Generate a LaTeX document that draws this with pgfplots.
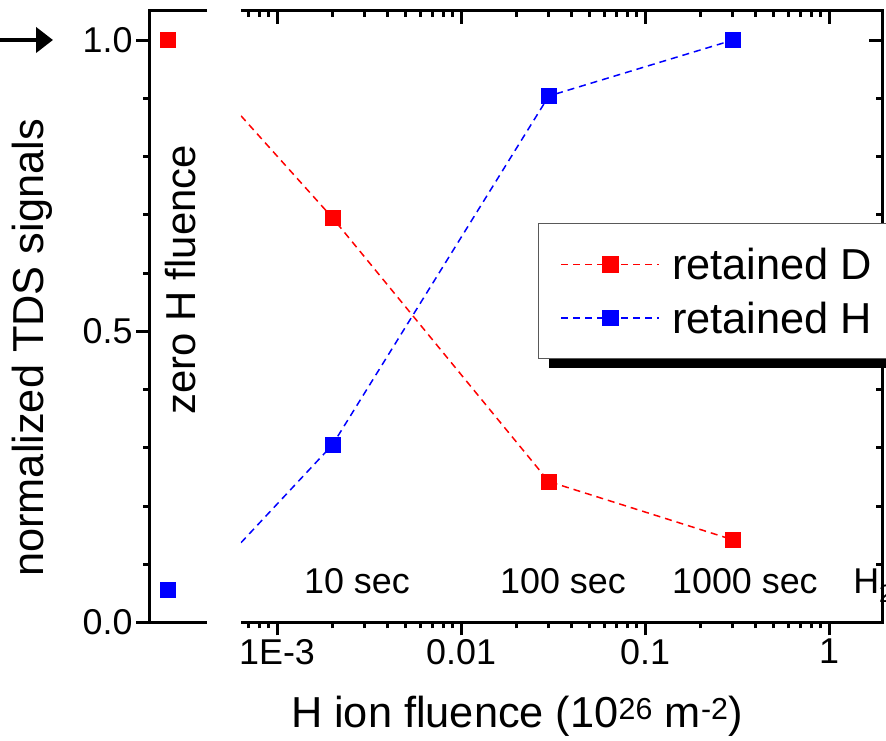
\documentclass[border=0pt]{standalone}
\usepackage{pgfplots}
\pgfplotsset{compat=1.18}
\usepackage{fontspec}
\setmainfont{Liberation Sans}
\usetikzlibrary{arrows.meta}
\begin{document}
\begin{tikzpicture}[x=1bp,y=1bp]
\useasboundingbox (0,0) rectangle (886,741);
\pgfplotsset{
  common/.style={scale only axis, height=611.5bp, ymin=0, ymax=1.05,
    axis line style={draw=none}, tick style={black, line width=3bp},
    major tick length=13bp, minor tick length=6bp,
    /pgf/number format/assume math mode=true,
    ticklabel style={font=\fontsize{36}{43}\selectfont},
    clip mode=individual, anchor=south west},
  mainx/.style={xmin=6.37e-4, xmax=1.94, width=641bp, at={(241bp,118.5bp)},
    xtick={0.001,0.01,0.1,1},
    minor xtick={7e-4,8e-4,9e-4,2e-3,3e-3,4e-3,5e-3,6e-3,7e-3,8e-3,9e-3,0.02,0.03,0.04,0.05,0.06,0.07,0.08,0.09,0.2,0.3,0.4,0.5,0.6,0.7,0.8,0.9}},
  leftx/.style={xmin=0, xmax=1, width=58bp, at={(149bp,118.5bp)}, xtick=\empty, minor xtick={0.57,1}},
  yt/.style={ytick={0,0.5,1}, minor ytick={0.1,0.2,0.3,0.4,0.6,0.7,0.8,0.9}},
}
% left (zero fluence) axis, outward ticks
\begin{axis}[common, leftx, yt, tick align=outside, xtick pos=left, ytick pos=left,
  yticklabels={0.0,0.5,1.0}]
\addplot[only marks, mark=square*, mark size=7.5bp, red] coordinates {(0.33,1.0)};
\addplot[only marks, mark=square*, mark size=7.5bp, blue] coordinates {(0.33,0.057)};
\draw[line width=3bp] (rel axis cs:1,1) -- (rel axis cs:0,1) -- (rel axis cs:0,0) -- (rel axis cs:1,0);
\end{axis}
% left axis, top inward ticks
\begin{axis}[common, leftx, tick align=inside, xtick pos=right, ytick=\empty, xticklabels={}]
\end{axis}
% main axis, inward top/right ticks and frame
\begin{axis}[xmode=log, common, mainx, yt, tick align=inside, xtick pos=right, ytick pos=right,
  xticklabels={}, yticklabels={}]
\draw[line width=3bp] (rel axis cs:0,1) -- (rel axis cs:1,1) -- (rel axis cs:1,0) -- (rel axis cs:0,0);
\end{axis}
% legend shadow
\fill[black] (549,373) rectangle (900,507);
% main axis with data, bottom outward ticks and legend
\begin{axis}[xmode=log, common, mainx, tick align=outside, xtick pos=left, ytick=\empty,
  xticklabels={1E-3,0.01,0.1,1},
  legend image code/.code={\draw[mark repeat=2,mark phase=2,#1] plot coordinates {(0bp,0bp) (49bp,0bp) (98bp,0bp)};},
  legend style={at={(0.4633,0.6533)}, anchor=north west,
    draw=black!65, line width=1.5bp, fill=white,
    font=\fontsize{43.5}{50}\selectfont,
    inner xsep=22bp, inner ysep=22bp, row sep=16bp, column sep=10bp,
    cells={inner sep=0pt, text height=32bp, text depth=5bp},
    column 2/.style={nodes={text width=260bp}}},
  legend cell align=left]
\addplot[red, line width=1.5bp, dash pattern=on 7bp off 5bp, forget plot]
  coordinates {(6.37e-4,0.87) (0.002,0.695) (0.03,0.242) (0.3,0.142)};
\addplot[blue, line width=1.5bp, dash pattern=on 7bp off 5bp, forget plot]
  coordinates {(6.37e-4,0.137) (0.002,0.305) (0.03,0.904) (0.3,1.0)};
\addplot[only marks, mark=square*, mark size=7.5bp, red, forget plot]
  coordinates {(0.002,0.695) (0.03,0.242) (0.3,0.142)};
\addplot[only marks, mark=square*, mark size=7.5bp, blue, forget plot]
  coordinates {(0.002,0.305) (0.03,0.904) (0.3,1.0)};
\addlegendimage{red, line width=1.5bp, dash pattern=on 7bp off 5bp, mark=square*, mark size=7.5bp, mark options={solid}}
\addlegendentry{retained D}
\addlegendimage{blue, line width=1.5bp, dash pattern=on 7bp off 5bp, mark=square*, mark size=7.5bp, mark options={solid}}
\addlegendentry{retained H}
\node[anchor=base, font=\fontsize{36}{43}\selectfont] at (axis cs:0.00272,0.049) {10 sec};
\node[anchor=base, font=\fontsize{36}{43}\selectfont] at (axis cs:0.0358,0.049) {100 sec};
\node[anchor=base, font=\fontsize{36}{43}\selectfont] at (axis cs:0.349,0.049) {1000 sec};
\node[anchor=base west, inner sep=0pt, font=\fontsize{36}{43}\selectfont] at (axis cs:1.35,0.049) {H\textsubscript{2}};
\end{axis}
% labels and arrow
\node[rotate=90, anchor=base, inner sep=0pt, font=\fontsize{43.5}{50}\selectfont] at (43,393) {normalized TDS signals};
\node[rotate=90, anchor=base, inner sep=0pt, font=\fontsize{42}{48}\selectfont] at (195,461) {zero H fluence};
\node[anchor=base, inner sep=0pt, font=\fontsize{43.5}{50}\selectfont] at (517,13) {H ion fluence (10\textsuperscript{26} m\textsuperscript{-2})};
\draw[line width=4.5bp, -{Triangle[length=17bp,width=25bp]}] (0,701) -- (53,701);
\end{tikzpicture}
\end{document}
